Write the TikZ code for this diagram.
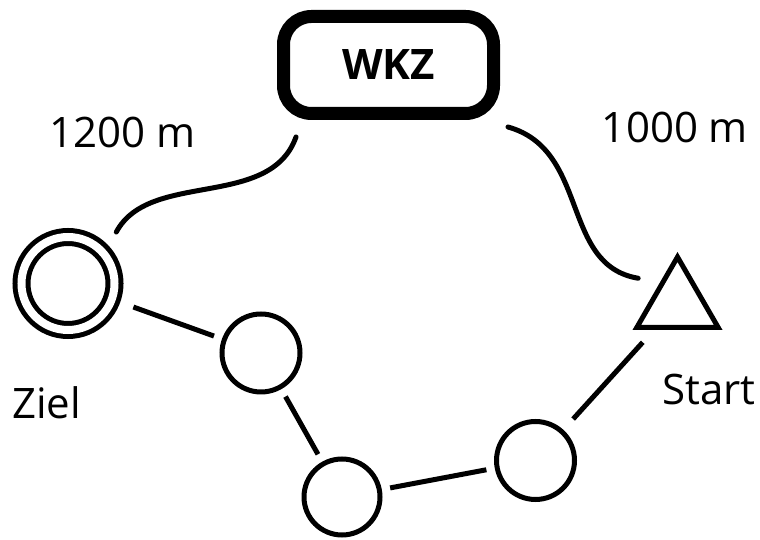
\documentclass[tikz,border=0pt]{standalone}
\usepackage{fontspec}
\setmainfont{Open Sans}
\usetikzlibrary{shapes.geometric}

\begin{document}
\begin{tikzpicture}[x=1pt,y=1pt,
	spot/.style={circle,draw,line width=5pt,inner sep=0pt,outer sep=0pt,minimum size=78pt},
	link/.style={line width=5pt,shorten <=11pt,shorten >=11pt},
	trail/.style={line width=5pt,line cap=round},
	lbl/.style={font=\fontsize{42}{50}\selectfont,anchor=base}]
	\useasboundingbox (0,0) rectangle (760,540);
	% Werkzeug box
	\node[draw,line width=13pt,rounded corners=28pt,minimum width=210pt,minimum height=97pt,inner sep=0pt,outer sep=0pt,font=\fontsize{42}{50}\selectfont\bfseries] (wkz) at (388.5,475) {WKZ};
	% posts
	\node[spot,double,double distance=8pt,minimum size=93pt] (ziel) at (68,256.5) {};
	\node[spot] (c1) at (261,187) {};
	\node[spot,minimum size=76pt] (c2) at (342,43) {};
	\node[spot] (c3) at (535.5,79.5) {};
	\node[draw,regular polygon,regular polygon sides=3,line width=5pt,minimum size=94pt,inner sep=0pt,outer sep=0pt] (start) at (677.5,236) {};
	% labels
	\node[lbl] (dl) at (122.5,392) {1200 m};
	\node[lbl] (dr) at (675,397) {1000 m};
	\node[lbl] (zl) at (46.5,121) {Ziel};
	\node[lbl] (sl) at (709,135) {Start};
	% route
	\draw[link,shorten <=23pt] (ziel) -- (c1);
	\draw[link] (c1) -- (c2);
	\draw[link] (c2) -- (c3);
	\draw[link,shorten <=17pt,shorten >=20pt] (c3) -- (start);
	% walks to the box
	\draw[trail] ([shift={(12.5,-23.5)}]wkz.south west) .. controls +(-26,-73) and +(33,62) .. ([shift={(16,18)}]ziel.46);
	\draw[trail] ([shift={(14.5,-13.5)}]wkz.south east) .. controls +(82,-23) and +(-78,13) .. ([shift={(-19,14)}]start.side 1);
\end{tikzpicture}
\end{document}
